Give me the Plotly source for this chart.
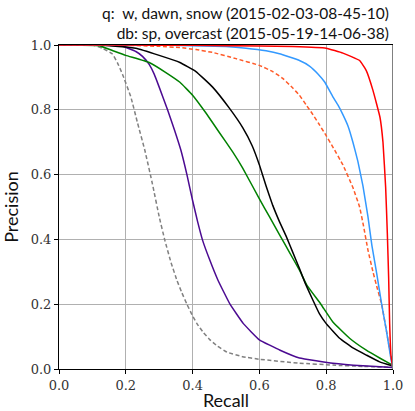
import plotly.graph_objects as go

# ---- data (recall, precision) ----
red_r = [0, 0.2, 0.4, 0.6, 0.7, 0.8, 0.85, 0.9, 0.92, 0.94, 0.961, 0.97, 0.978, 0.983, 0.987, 0.99, 0.994, 1.0]
red_p = [1.0, 1.0, 0.999, 0.997, 0.995, 0.99, 0.975, 0.952, 0.921, 0.86, 0.777, 0.70, 0.56, 0.42, 0.28, 0.14, 0.04, 0.0]

blue_r = [0, 0.3, 0.5, 0.56, 0.62, 0.66, 0.72, 0.75, 0.776, 0.796, 0.82, 0.835, 0.85, 0.866, 0.88, 0.895, 0.91, 0.925, 0.937, 0.952, 0.966, 0.98, 0.994, 1.0]
blue_p = [1.0, 1.0, 0.995, 0.99, 0.982, 0.973, 0.952, 0.935, 0.91, 0.885, 0.84, 0.815, 0.785, 0.748, 0.70, 0.64, 0.565, 0.47, 0.38, 0.29, 0.2, 0.12, 0.03, 0.0]

orange_r = [0, 0.2, 0.3, 0.362, 0.41, 0.46, 0.53, 0.60, 0.64, 0.67, 0.70, 0.72, 0.74, 0.757, 0.776, 0.80, 0.82, 0.85, 0.88, 0.90, 0.912, 0.925, 0.94, 0.95, 0.966, 0.98, 0.995, 1.0]
orange_p = [1.0, 0.999, 0.996, 0.992, 0.986, 0.977, 0.958, 0.937, 0.918, 0.897, 0.867, 0.845, 0.815, 0.79, 0.76, 0.72, 0.685, 0.63, 0.56, 0.5, 0.44, 0.367, 0.3, 0.26, 0.2, 0.12, 0.03, 0.0]

black_r = [0, 0.1, 0.15, 0.23, 0.30, 0.362, 0.41, 0.46, 0.51, 0.55, 0.578, 0.60, 0.62, 0.64, 0.66, 0.68, 0.70, 0.72, 0.737, 0.76, 0.78, 0.80, 0.84, 0.88, 0.92, 0.96, 0.997]
black_p = [1.0, 1.0, 0.998, 0.99, 0.968, 0.946, 0.918, 0.87, 0.805, 0.745, 0.69, 0.63, 0.565, 0.505, 0.455, 0.41, 0.36, 0.31, 0.265, 0.213, 0.17, 0.14, 0.095, 0.065, 0.043, 0.022, 0.01]

green_r = [0, 0.12, 0.16, 0.2, 0.27, 0.32, 0.362, 0.40, 0.44, 0.48, 0.52, 0.55, 0.60, 0.63, 0.66, 0.69, 0.72, 0.742, 0.784, 0.82, 0.87, 0.92, 0.96, 0.997]
green_p = [1.0, 0.998, 0.983, 0.968, 0.946, 0.915, 0.885, 0.845, 0.79, 0.73, 0.67, 0.62, 0.525, 0.47, 0.415, 0.36, 0.305, 0.259, 0.2, 0.145, 0.095, 0.058, 0.034, 0.013]

purple_r = [0, 0.1, 0.15, 0.19, 0.23, 0.25, 0.27, 0.285, 0.30, 0.325, 0.345, 0.365, 0.383, 0.40, 0.415, 0.43, 0.45, 0.476, 0.512, 0.552, 0.60, 0.662, 0.72, 0.82, 0.91, 1.0]
purple_p = [1.0, 1.0, 0.999, 0.996, 0.98, 0.965, 0.94, 0.91, 0.87, 0.80, 0.74, 0.675, 0.60, 0.52, 0.455, 0.397, 0.34, 0.274, 0.2, 0.14, 0.09, 0.058, 0.034, 0.018, 0.01, 0.005]

gray_r = [0, 0.1, 0.13, 0.16, 0.175, 0.19, 0.215, 0.235, 0.257, 0.28, 0.3, 0.317, 0.335, 0.353, 0.368, 0.383, 0.398, 0.413, 0.432, 0.452, 0.475, 0.503, 0.55, 0.60, 0.72, 0.82, 0.91, 1.0]
gray_p = [1.0, 1.0, 0.99, 0.972, 0.945, 0.91, 0.84, 0.76, 0.675, 0.57, 0.47, 0.397, 0.33, 0.274, 0.235, 0.2, 0.168, 0.14, 0.113, 0.09, 0.07, 0.052, 0.038, 0.03, 0.018, 0.012, 0.008, 0.005]

tick_vals = [0.0, 0.2, 0.4, 0.6, 0.8, 1.0]
tick_text = ["0.0", "0.2", "0.4", "0.6", "0.8", "1.0"]

title_lines = ["q:\u00a0 w, dawn, snow (2015-02-03-08-45-10)",
               "db: sp, overcast (2015-05-19-14-06-38)"]

series = [
    (gray_r, gray_p, "#808080", "dash"),
    (purple_r, purple_p, "#4b0a91", "solid"),
    (green_r, green_p, "#008000", "solid"),
    (black_r, black_p, "#000000", "solid"),
    (orange_r, orange_p, "#ff5a28", "dash"),
    (blue_r, blue_p, "#3399ff", "solid"),
    (red_r, red_p, "#ff0000", "solid"),
]

fig = go.Figure()
for r, p, c, d in series:
    fig.add_trace(go.Scatter(x=r, y=p, mode="lines",
                             line=dict(color=c, width=1.5, dash=("4px,2.5px" if d == "dash" else "solid"),
                                       shape="spline", smoothing=0.3),
                             showlegend=False, hoverinfo="skip"))

tick_font = dict(family="DejaVu Serif", size=13, color="#333333")
axis_common = dict(range=[0, 1], tickvals=tick_vals, ticktext=tick_text, tickfont=tick_font,
                   showgrid=True, gridcolor="#b0b0b0", gridwidth=1, zeroline=False, automargin=False,
                   ticks="outside", ticklen=4, tickcolor="#000000", showline=True, linecolor="#000000", linewidth=1)

label_font = dict(family="Lato, DejaVu Sans, sans-serif", size=18, color="#111111")

fig.update_layout(
    width=415, height=411,
    margin=dict(l=59, r=22, t=45, b=42),
    paper_bgcolor="white", plot_bgcolor="white",
    xaxis=dict(**axis_common, mirror=True, title=dict(text="Recall", font=label_font)),
    yaxis=dict(**axis_common, title=dict(text="Precision", font=label_font)),
    annotations=[dict(text="<br>".join(title_lines), xref="paper", yref="paper", x=1, y=1,
                      xanchor="right", yanchor="bottom", align="right", showarrow=False, xshift=-2, yshift=1,
                      font=dict(family="Lato, DejaVu Sans, sans-serif", size=15.5, color="#111111"))],
    shapes=[dict(type="line", xref="x", yref="y", x0=1, x1=1, y0=0, y1=1, line=dict(color="#808080", width=2))],
)

fig.write_html("out.html")
